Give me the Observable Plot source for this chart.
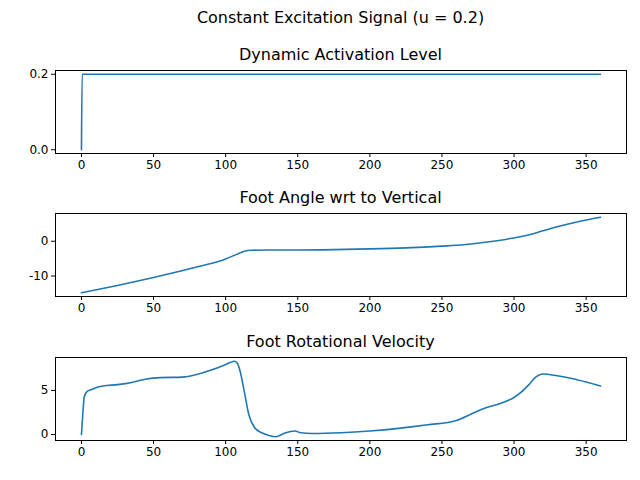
<!DOCTYPE html>
<html>
<head>
<meta charset="utf-8">
<script src="https://cdn.jsdelivr.net/npm/d3@7"></script>
<script src="https://cdn.jsdelivr.net/npm/@observablehq/plot@0.6"></script>
<style>
  body { margin: 0; background: white; font-family: "DejaVu Sans", sans-serif; }
  #fig { position: relative; width: 640px; height: 480px; }
  .t { position: absolute; left: 55px; width: 571px; text-align: center; font-size: 16px; line-height: 20px; color: black; z-index: 2; }
  .p { position: absolute; left: 0; }
</style>
</head>
<body>
<div id="fig">
  <div class="t" style="top:8px">Constant Excitation Signal (u = 0.2)</div>
</div>
<script>
// activation level
const actT = [0, 0.5, 2, 360];
const actV = [0, 0.2, 0.2, 0.2];

// foot angle
const angT = [0, 25, 50, 75, 100, 108, 113, 118, 130, 150, 175, 200, 225, 250, 265, 280, 295, 310, 320, 330, 340, 350, 360];
const angV = [-14.8, -12.7, -10.4, -7.9, -5.1, -3.7, -2.9, -2.6, -2.5, -2.5, -2.4, -2.2, -1.9, -1.4, -1.0, -0.3, 0.6, 1.8, 3.0, 4.2, 5.2, 6.1, 6.9];

// foot rotational velocity
const velT = [0, 1, 2, 4, 7, 10, 15, 25, 35, 45, 55, 70, 80, 90, 98, 103, 106, 108, 110, 113, 116, 120, 125, 130, 135, 140, 145, 148, 152, 160, 180, 200, 220, 240, 260, 270, 280, 290, 300, 305, 310, 315, 320, 330, 340, 350, 360];
const velV = [0, 2.5, 4.3, 4.9, 5.1, 5.3, 5.5, 5.65, 5.9, 6.3, 6.45, 6.5, 6.8, 7.3, 7.8, 8.15, 8.3, 8.1, 7.2, 4.8, 2.3, 0.8, 0.2, -0.1, -0.25, 0.1, 0.35, 0.4, 0.2, 0.12, 0.2, 0.4, 0.7, 1.1, 1.6, 2.3, 3.0, 3.5, 4.2, 4.8, 5.6, 6.5, 6.85, 6.65, 6.35, 5.95, 5.5];

const xTicks = [0, 50, 100, 150, 200, 250, 300, 350];
const panels = [
  {title: "Dynamic Activation Level", t: actT, v: actV, top: 70, yTicks: [0, 0.2], fmt: d3.format(".1f")},
  {title: "Foot Angle wrt to Vertical", t: angT, v: angV, top: 213, yTicks: [-10, 0], fmt: d => d},
  {title: "Foot Rotational Velocity", t: velT, v: velV, top: 357, yTicks: [0, 5], fmt: d => d}
];

const fig = d3.select("#fig");
panels.forEach(p => {
  const data = p.t.map((t, i) => ({t, v: p.v[i]}));
  const [lo, hi] = d3.extent(p.v);
  const pad = (hi - lo) * 0.05;
  const chart = Plot.plot({
    width: 640, height: 83 + 10 + 30,
    marginTop: 10, marginBottom: 30, marginLeft: 55, marginRight: 14,
    style: {fontFamily: "DejaVu Sans", fontSize: "12px", color: "black", background: "transparent"},
    x: {domain: [-18, 378]},
    y: {domain: [lo - pad, hi + pad]},
    marks: [
      Plot.frame({stroke: "black"}),
      Plot.axisX({ticks: xTicks, tickSize: 4, tickPadding: 3, label: null, fontSize: 12}),
      Plot.axisY({ticks: p.yTicks, tickFormat: p.fmt, tickSize: 4, tickPadding: 3, label: null, fontSize: 12}),
      Plot.line(data, {x: "t", y: "v", stroke: "#1f77b4", strokeWidth: 1.6, curve: "monotone-x"})
    ]
  });
  fig.append("div").attr("class", "t").style("top", (p.top - 25) + "px").text(p.title);
  fig.append("div").attr("class", "p").style("top", (p.top - 10) + "px").node().append(chart);
});
</script>
</body>
</html>
